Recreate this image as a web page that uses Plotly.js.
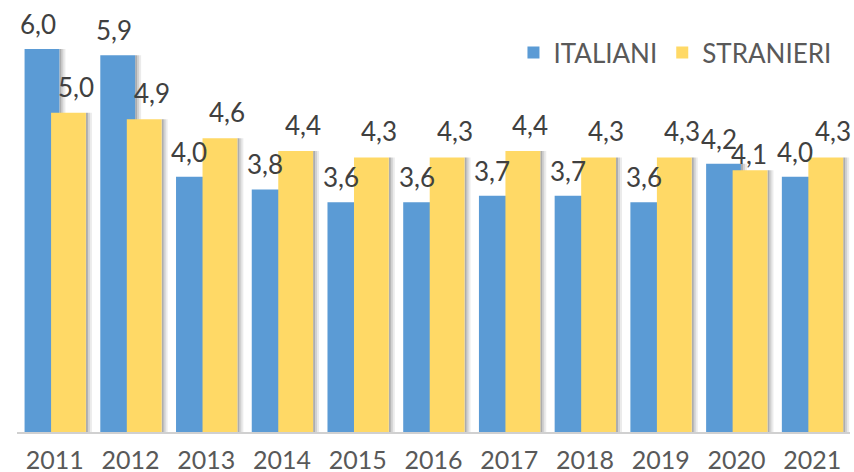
<!DOCTYPE html>
<html>
<head>
<meta charset="utf-8">
<script src="https://cdn.plot.ly/plotly-3.0.1.min.js"></script>
<style>html,body{margin:0;padding:0;background:#fff}#chart{width:854px;height:472px}</style>
</head>
<body>
<div id="chart"></div>
<script>
const years = ['2011','2012','2013','2014','2015','2016','2017','2018','2019','2020','2021'];
const italiani = [6.0, 5.9, 4.0, 3.8, 3.6, 3.6, 3.7, 3.7, 3.6, 4.2, 4.0];
const stranieri = [5.0, 4.9, 4.6, 4.4, 4.3, 4.3, 4.4, 4.3, 4.3, 4.1, 4.3];
const seriesNames = ['ITALIANI', 'STRANIERI'];

const BLUE = '#5B9BD5', GOLD = '#FFD966', TXT = '#404040';
const FONT = 'Lato, "Open Sans", sans-serif';
const fmt = v => v.toFixed(1).replace('.', ',');

const BAR_W = 0.46;
const OFFS = [-0.40, -0.05];
const PX = 1 / 75.73;           // one pixel in category units
const shadowAlphas = [0.32, 0.18, 0.08];

function shadowTraces(vals, off) {
  return shadowAlphas.map((a, k) => ({
    type:'bar', x:years, y:vals, showlegend:false, hoverinfo:'skip',
    offset: off + BAR_W + k * 2 * PX, width: 2 * PX,
    marker:{color:'rgba(0,0,0,' + a + ')', line:{width:0}}
  }));
}

const traces = [
  ...shadowTraces(italiani, OFFS[0]),
  {type:'bar', name:seriesNames[0], x:years, y:italiani, marker:{color:BLUE, line:{width:0}}, offset:OFFS[0], width:BAR_W, hoverinfo:'skip'},
  ...shadowTraces(stranieri, OFFS[1]),
  {type:'bar', name:seriesNames[1], x:years, y:stranieri, marker:{color:GOLD, line:{width:0}}, offset:OFFS[1], width:BAR_W, hoverinfo:'skip'}
];

const annotations = [];
years.forEach((yr, i) => {
  annotations.push({x:i, y:italiani[i], xref:'x', yref:'y', text:fmt(italiani[i]), showarrow:false,
    xanchor:'center', yanchor:'middle', xshift:-17, yshift:25, font:{family:FONT, size:26, color:TXT}});
  const special = (yr === '2020');
  annotations.push({x:i, y:stranieri[i], xref:'x', yref:'y', text:fmt(stranieri[i]), showarrow:false,
    xanchor:'center', yanchor:'middle', xshift: special ? 13 : 21, yshift: special ? 16 : 26, font:{family:FONT, size:26, color:TXT}});
});

const layout = {
  width:854, height:472,
  margin:{l:17, r:4, t:10, b:40},
  paper_bgcolor:'#fff', plot_bgcolor:'#fff',
  barmode:'overlay',
  showlegend:true,
  legend:{orientation:'h', x:0.596, xanchor:'left', y:0.955, yanchor:'top', traceorder:'normal',
    font:{family:FONT, size:26, color:'#595959'}, bgcolor:'rgba(0,0,0,0)'},
  xaxis:{type:'category', categoryorder:'array', categoryarray:years, range:[-0.5, years.length - 0.5], autorange:false,
    showgrid:false, zeroline:false, showline:true, linecolor:'#D0D0D0', linewidth:2,
    ticks:'', ticklabelstandoff:5, tickfont:{family:FONT, size:25, color:'#595959'}, fixedrange:true},
  yaxis:{range:[0, 6.61], autorange:false, visible:false, showgrid:false, zeroline:false, fixedrange:true},
  annotations:annotations
};

Plotly.newPlot('chart', traces, layout, {displayModeBar:false, staticPlot:true});
</script>
</body>
</html>
